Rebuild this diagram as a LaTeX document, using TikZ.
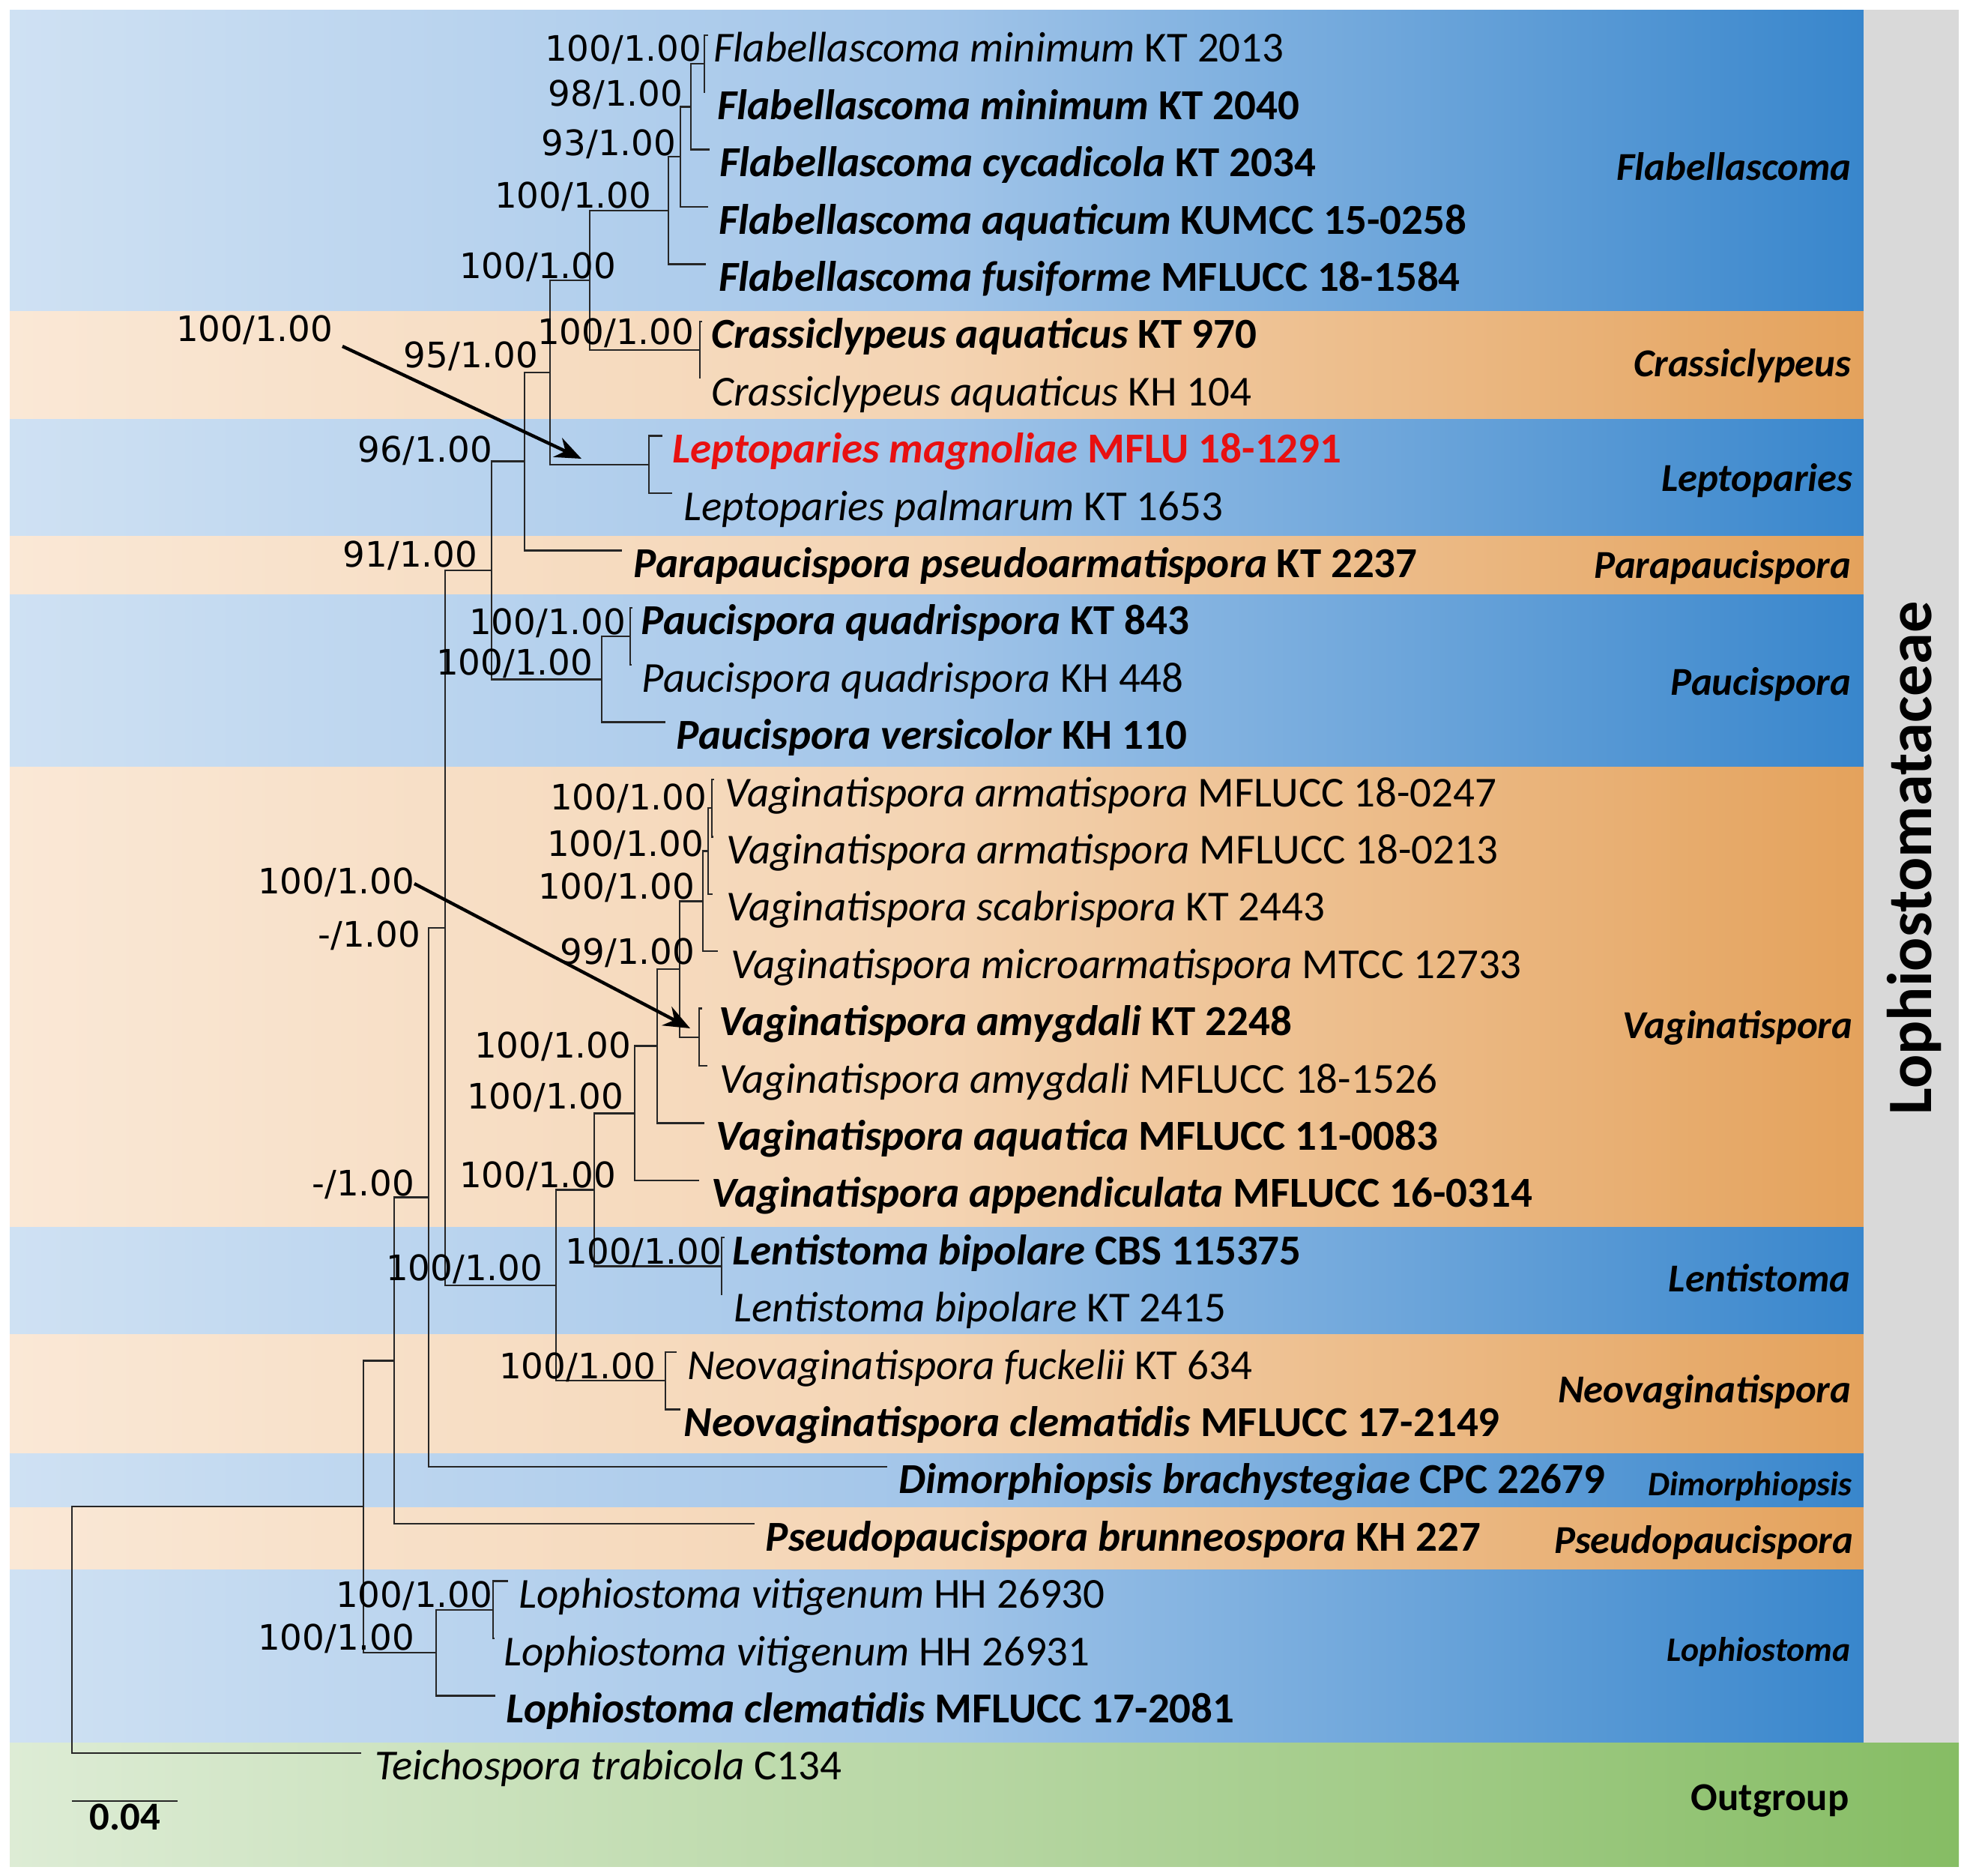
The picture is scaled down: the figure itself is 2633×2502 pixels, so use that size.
\documentclass[tikz,border=0pt]{standalone}
\usepackage{fontspec}
\setmainfont{Carlito}
\newfontfamily\supfont{DejaVu Sans}
\usetikzlibrary{arrows.meta}

\definecolor{blueL}{RGB}{207,225,243}
\definecolor{blueM}{RGB}{162,197,233}
\definecolor{blueR}{RGB}{56,134,204}
\definecolor{orL}{RGB}{250,232,214}
\definecolor{orM}{RGB}{244,212,179}
\definecolor{orR}{RGB}{228,162,92}
\definecolor{grL}{RGB}{221,236,213}
\definecolor{grM}{RGB}{182,214,162}
\definecolor{grR}{RGB}{134,189,100}
\definecolor{sidegray}{RGB}{217,217,217}
\definecolor{lepred}{RGB}{232,16,16}

\pgfdeclarehorizontalshading{blueband}{100bp}{color(0bp)=(blueL); color(25bp)=(blueL); color(50bp)=(blueM); color(75bp)=(blueR); color(100bp)=(blueR)}
\pgfdeclarehorizontalshading{orband}{100bp}{color(0bp)=(orL); color(25bp)=(orL); color(50bp)=(orM); color(75bp)=(orR); color(100bp)=(orR)}
\pgfdeclarehorizontalshading{grband}{100bp}{color(0bp)=(grL); color(25bp)=(grL); color(50bp)=(grM); color(75bp)=(grR); color(100bp)=(grR)}

\begin{document}
\begin{tikzpicture}[x=0.01cm,y=-0.01cm,
  branch/.style={draw=black!85, line width=0.7pt},
  taxon/.style={anchor=base west, inner sep=0pt, font=\fontsize{16.2}{19}\selectfont},
  taxonbf/.style={anchor=base west, inner sep=0pt, font=\fontsize{16.2}{19}\selectfont\bfseries},
  support/.style={anchor=base east, inner sep=0pt, font=\supfont\fontsize{13.3}{16}\selectfont},
  clade/.style={anchor=base east, inner sep=0pt, font=\fontsize{15}{18}\selectfont\bfseries\itshape},
  pointer/.style={draw=black, line width=1.25pt, -{Stealth[length=10pt,width=8pt]}}]
\useasboundingbox (0,0) rectangle (2633,2502);
\fill[white] (0,0) rectangle (2633,2502);

% genus bands
\shade[shading=blueband] (13,13) rectangle (2487,415);
\shade[shading=orband] (13,415) rectangle (2487,559);
\shade[shading=blueband] (13,559) rectangle (2487,715);
\shade[shading=orband] (13,715) rectangle (2487,793);
\shade[shading=blueband] (13,793) rectangle (2487,1023);
\shade[shading=orband] (13,1023) rectangle (2487,1637);
\shade[shading=blueband] (13,1637) rectangle (2487,1780);
\shade[shading=orband] (13,1780) rectangle (2487,1939);
\shade[shading=blueband] (13,1939) rectangle (2487,2011);
\shade[shading=orband] (13,2011) rectangle (2487,2094);
\shade[shading=blueband] (13,2094) rectangle (2487,2325);
\shade[shading=grband] (13,2325) rectangle (2614,2490);
\fill[sidegray] (2487,13) rectangle (2614,2325);

% tips
\coordinate (t1) at (945,46.8);
\coordinate (t2) at (941,123.2);
\coordinate (t3) at (947,199.6);
\coordinate (t4) at (945,276.0);
\coordinate (t5) at (942,352.4);
\coordinate (t6) at (937,428.8);
\coordinate (t7) at (934,505.2);
\coordinate (t8) at (884,581.6);
\coordinate (t9) at (897,658.0);
\coordinate (t10) at (830,734.4);
\coordinate (t11) at (844,810.8);
\coordinate (t12) at (843,887.2);
\coordinate (t13) at (888,963.6);
\coordinate (t14) at (953,1040.0);
\coordinate (t15) at (952,1116.4);
\coordinate (t16) at (951,1192.8);
\coordinate (t17) at (958,1269.2);
\coordinate (t18) at (937,1345.6);
\coordinate (t19) at (944,1422.0);
\coordinate (t20) at (940,1498.4);
\coordinate (t21) at (933,1574.8);
\coordinate (t22) at (967,1651.2);
\coordinate (t23) at (963,1727.6);
\coordinate (t24) at (903,1804.0);
\coordinate (t25) at (908,1880.4);
\coordinate (t26) at (1184,1956.8);
\coordinate (t27) at (1007,2033.2);
\coordinate (t28) at (678,2109.6);
\coordinate (t29) at (660,2186.0);
\coordinate (t30) at (661,2262.4);
\coordinate (t31) at (482,2338.8);

% internal nodes
\coordinate (nA) at (940,85.0);
\coordinate (nB) at (922,142.3);
\coordinate (nC) at (908,209.2);
\coordinate (nD) at (892,280.8);
\coordinate (nCr) at (934,467.0);
\coordinate (nE) at (787,373.9);
\coordinate (nLep) at (866,619.8);
\coordinate (nF) at (734,496.9);
\coordinate (nG) at (700,615.6);
\coordinate (nPq) at (841,849.0);
\coordinate (nP) at (803,906.3);
\coordinate (nH) at (656,761.0);
\coordinate (nV5) at (950,1078.2);
\coordinate (nV4) at (945,1135.5);
\coordinate (nV3) at (938,1202.3);
\coordinate (nAm) at (933,1383.8);
\coordinate (nV2) at (907,1293.1);
\coordinate (nV1) at (877,1395.7);
\coordinate (nV0) at (847,1485.3);
\coordinate (nLen) at (963,1689.4);
\coordinate (nVl) at (793,1587.3);
\coordinate (nNeo) at (888,1842.2);
\coordinate (nK) at (742,1714.8);
\coordinate (nI) at (594,1237.9);
\coordinate (nL) at (572,1597.4);
\coordinate (nM) at (526,1815.3);
\coordinate (nLv) at (658,2147.8);
\coordinate (nLo) at (582,2205.1);
\coordinate (nN) at (485,2010.2);
\coordinate (root) at (96,2174.5);

% branches
\draw[branch] (nA) |- (t1) (nA) |- (t2);
\draw[branch] (nB) |- (nA) (nB) |- (t3);
\draw[branch] (nC) |- (nB) (nC) |- (t4);
\draw[branch] (nD) |- (nC) (nD) |- (t5);
\draw[branch] (nCr) |- (t6) (nCr) |- (t7);
\draw[branch] (nE) |- (nD) (nE) |- (nCr);
\draw[branch] (nLep) |- (t8) (nLep) |- (t9);
\draw[branch] (nF) |- (nE) (nF) |- (nLep);
\draw[branch] (nG) |- (nF) (nG) |- (t10);
\draw[branch] (nPq) |- (t11) (nPq) |- (t12);
\draw[branch] (nP) |- (nPq) (nP) |- (t13);
\draw[branch] (nH) |- (nG) (nH) |- (nP);
\draw[branch] (nV5) |- (t14) (nV5) |- (t15);
\draw[branch] (nV4) |- (nV5) (nV4) |- (t16);
\draw[branch] (nV3) |- (nV4) (nV3) |- (t17);
\draw[branch] (nAm) |- (t18) (nAm) |- (t19);
\draw[branch] (nV2) |- (nV3) (nV2) |- (nAm);
\draw[branch] (nV1) |- (nV2) (nV1) |- (t20);
\draw[branch] (nV0) |- (nV1) (nV0) |- (t21);
\draw[branch] (nLen) |- (t22) (nLen) |- (t23);
\draw[branch] (nVl) |- (nV0) (nVl) |- (nLen);
\draw[branch] (nNeo) |- (t24) (nNeo) |- (t25);
\draw[branch] (nK) |- (nVl) (nK) |- (nNeo);
\draw[branch] (nI) |- (nH) (nI) |- (nK);
\draw[branch] (nL) |- (nI) (nL) |- (t26);
\draw[branch] (nM) |- (nL) (nM) |- (t27);
\draw[branch] (nLv) |- (t28) (nLv) |- (t29);
\draw[branch] (nLo) |- (nLv) (nLo) |- (t30);
\draw[branch] (nN) |- (nM) (nN) |- (nLo);
\draw[branch] (root) |- (nN) (root) |- (t31);

% taxa
\node[taxon] (flabMinA) at (952,82.8) {\textit{Flabellascoma minimum} KT 2013};
\node[taxonbf] (flabMinB) at (957,159.2) {\textit{Flabellascoma minimum} KT 2040};
\node[taxonbf] (flabCyc) at (960,235.6) {\textit{Flabellascoma cycadicola} KT 2034};
\node[taxonbf] (flabAqu) at (959,312.0) {\textit{Flabellascoma aquaticum} KUMCC 15-0258};
\node[taxonbf] (flabFus) at (959,388.4) {\textit{Flabellascoma fusiforme} MFLUCC 18-1584};
\node[taxonbf] (crasA) at (949,464.8) {\textit{Crassiclypeus aquaticus} KT 970};
\node[taxon] (crasB) at (949,541.2) {\textit{Crassiclypeus aquaticus} KH 104};
\node[taxonbf, text=lepred] (lepMag) at (897,617.6) {\textit{Leptoparies magnoliae} MFLU 18-1291};
\node[taxon] (lepPal) at (912,694.0) {\textit{Leptoparies palmarum} KT 1653};
\node[taxonbf] (paraPse) at (845,770.4) {\textit{Parapaucispora pseudoarmatispora} KT 2237};
\node[taxonbf] (pauQuaA) at (855,846.8) {\textit{Paucispora quadrispora} KT 843};
\node[taxon] (pauQuaB) at (856,923.2) {\textit{Paucispora quadrispora} KH 448};
\node[taxonbf] (pauVer) at (902,999.6) {\textit{Paucispora versicolor} KH 110};
\node[taxon] (vagArmA) at (967,1076.0) {\textit{Vaginatispora armatispora} MFLUCC 18-0247};
\node[taxon] (vagArmB) at (969,1152.4) {\textit{Vaginatispora armatispora} MFLUCC 18-0213};
\node[taxon] (vagSca) at (969,1228.8) {\textit{Vaginatispora scabrispora} KT 2443};
\node[taxon] (vagMic) at (975,1305.2) {\textit{Vaginatispora microarmatispora} MTCC 12733};
\node[taxonbf] (vagAmyA) at (959,1381.6) {\textit{Vaginatispora amygdali} KT 2248};
\node[taxon] (vagAmyB) at (960,1458.0) {\textit{Vaginatispora amygdali} MFLUCC 18-1526};
\node[taxonbf] (vagAqu) at (955,1534.4) {\textit{Vaginatispora aquatica} MFLUCC 11-0083};
\node[taxonbf] (vagApp) at (949,1610.8) {\textit{Vaginatispora appendiculata} MFLUCC 16-0314};
\node[taxonbf] (lenBipA) at (977,1687.2) {\textit{Lentistoma bipolare} CBS 115375};
\node[taxon] (lenBipB) at (979,1763.6) {\textit{Lentistoma bipolare} KT 2415};
\node[taxon] (neoFuc) at (917,1840.0) {\textit{Neovaginatispora fuckelii} KT 634};
\node[taxonbf] (neoCle) at (912,1916.4) {\textit{Neovaginatispora clematidis} MFLUCC 17-2149};
\node[taxonbf] (dimBra) at (1199,1992.8) {\textit{Dimorphiopsis brachystegiae} CPC 22679};
\node[taxonbf] (pseBru) at (1021,2069.2) {\textit{Pseudopaucispora brunneospora} KH 227};
\node[taxon] (lopVitA) at (692,2145.6) {\textit{Lophiostoma vitigenum} HH 26930};
\node[taxon] (lopVitB) at (672,2222.0) {\textit{Lophiostoma vitigenum} HH 26931};
\node[taxonbf] (lopCle) at (675,2298.4) {\textit{Lophiostoma clematidis} MFLUCC 17-2081};
\node[taxon] (teiTra) at (500,2374.8) {\textit{Teichospora trabicola} C134};

% support values
\node[support] (sA) at (937,81) {100/1.00};
\node[support] (sB) at (912,141) {98/1.00};
\node[support] (sC) at (903,207) {93/1.00};
\node[support] (sD) at (870,277) {100/1.00};
\node[support] (sE) at (823,371) {100/1.00};
\node[support] (sCr) at (927,459) {100/1.00};
\node[support] (sF) at (719,490) {95/1.00};
\node[support] (sLep) at (445,455) {100/1.00};
\node[support] (sG) at (658,616) {96/1.00};
\node[support] (sH) at (638,756) {91/1.00};
\node[support] (sPq) at (836,846) {100/1.00};
\node[support] (sP) at (792,900) {100/1.00};
\node[support] (sI) at (562,1263) {-/1.00};
\node[support] (sV5) at (944,1080) {100/1.00};
\node[support] (sV4) at (940,1142) {100/1.00};
\node[support] (sV3) at (928,1199) {100/1.00};
\node[support] (sV2) at (928,1286) {99/1.00};
\node[support] (sAm) at (554,1192) {100/1.00};
\node[support] (sV1) at (843,1411) {100/1.00};
\node[support] (sV0) at (833,1479) {100/1.00};
\node[support] (sVl) at (823,1584) {100/1.00};
\node[support] (sLen) at (964,1686) {100/1.00};
\node[support] (sK) at (725,1708) {100/1.00};
\node[support] (sNeo) at (876,1839) {100/1.00};
\node[support] (sL) at (554,1595) {-/1.00};
\node[support] (sLv) at (658,2144) {100/1.00};
\node[support] (sLo) at (554,2201) {100/1.00};

% pointers to the new collections
\coordinate (pLepA) at (457,462);
\coordinate (pLepB) at (776,612);
\coordinate (pAmyA) at (553,1179);
\coordinate (pAmyB) at (921,1372);
\draw[pointer] (pLepA) -- (pLepB);
\draw[pointer] (pAmyA) -- (pAmyB);

% genus names
\node[clade] (gFlab) at (2471,240) {Flabellascoma};
\node[clade] (gCras) at (2471,502) {Crassiclypeus};
\node[clade] (gLep) at (2473,655) {Leptoparies};
\node[clade] (gPara) at (2471,771) {Parapaucispora};
\node[clade] (gPau) at (2471,927) {Paucispora};
\node[clade] (gVag) at (2473,1385) {Vaginatispora};
\node[clade] (gLen) at (2470,1723) {Lentistoma};
\node[clade] (gNeo) at (2471,1871) {Neovaginatispora};
\node[clade, font=\fontsize{13}{16}\selectfont\bfseries\itshape] (gDim) at (2472,1995) {Dimorphiopsis};
\node[clade] (gPse) at (2474,2072) {Pseudopaucispora};
\node[clade, font=\fontsize{13}{16}\selectfont\bfseries\itshape] (gLop) at (2470,2216) {Lophiostoma};
\node[clade, font=\fontsize{15}{18}\selectfont\bfseries] (gOut) at (2468,2415) {Outgroup};
\node[rotate=90, anchor=base, inner sep=0pt, font=\fontsize{24}{28}\selectfont\bfseries] (family) at (2577,1145) {Lophiostomataceae};

% scale bar
\coordinate (barA) at (96,2403);
\coordinate (barB) at (237,2403);
\draw[branch] (barA) -- (barB);
\node[anchor=base, inner sep=0pt, font=\fontsize{15}{18}\selectfont\bfseries] (barLabel) at (167,2441) {0.04};
\end{tikzpicture}
\end{document}
